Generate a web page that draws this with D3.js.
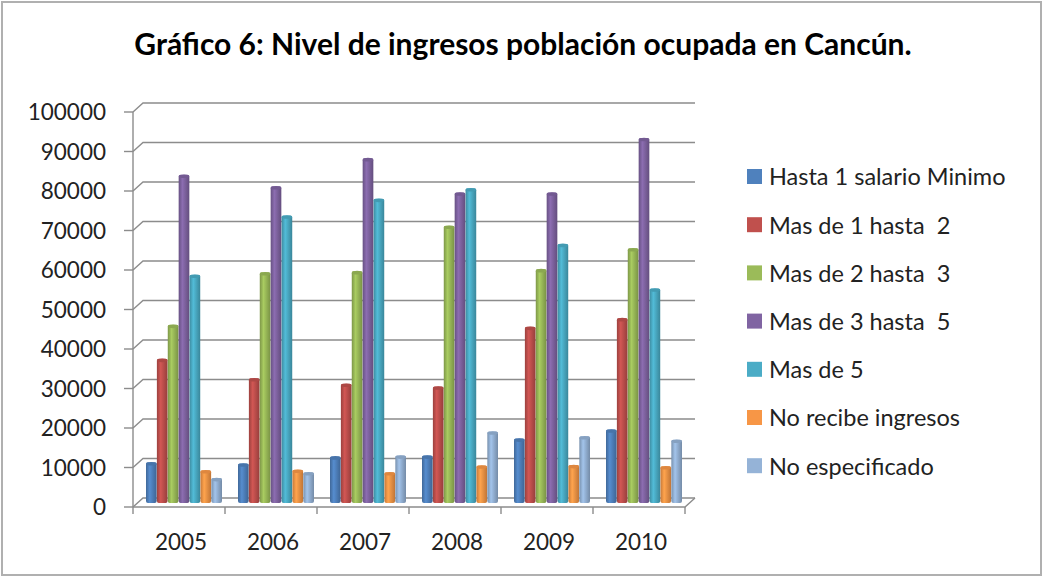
<!DOCTYPE html>
<html>
<head>
<meta charset="utf-8">
<script src="https://cdn.jsdelivr.net/npm/d3@7"></script>
<style>
  body { margin: 0; background: #fff; }
  svg { display: block; font-family: Lato, "Open Sans", sans-serif; }
</style>
</head>
<body>
<svg width="1044" height="578"></svg>
<script>
// data
var years = ["2005", "2006", "2007", "2008", "2009", "2010"];
var series = ["Hasta 1 salario Minimo", "Mas de 1 hasta  2", "Mas de 2 hasta  3",
              "Mas de 3 hasta  5", "Mas de 5", "No recibe ingresos", "No especificado"];
var colors = ["#4F81BD", "#C0504D", "#9BBB59", "#8064A2", "#4BACC6", "#F79646", "#95B3D7"];

var hasta1   = [10300, 10000, 11800, 12000, 16300, 18600];
var de1a2    = [36500, 31600, 30200, 29500, 44600, 46800];
var de2a3    = [45100, 58400, 58700, 70200, 59200, 64500];
var de3a5    = [83100, 80200, 87300, 78600, 78600, 92400];
var mas5     = [57800, 72800, 77000, 79700, 65600, 54300];
var noRecibe = [8300, 8400, 7800, 9500, 9600, 9300];
var noEspec  = [6300, 7800, 12000, 18100, 16900, 16000];
var values = [hasta1, de1a2, de2a3, de3a5, mas5, noRecibe, noEspec];

var yTicks = [0, 10000, 20000, 30000, 40000, 50000, 60000, 70000, 80000, 90000, 100000];

var svg = d3.select("svg");

// outer border
svg.append("rect")
    .attr("x", 2).attr("y", 2)
    .attr("width", 1039).attr("height", 573)
    .attr("fill", "none")
    .attr("stroke", "#b0b0b0")
    .attr("stroke-width", 2);

// title
svg.append("text")
    .attr("x", 523).attr("y", 55)
    .attr("text-anchor", "middle")
    .attr("font-weight", "bold")
    .attr("font-size", 30)
    .text("Gráfico 6: Nivel de ingresos población ocupada en Cancún.");

// 3d depth offset of the back wall
var dx = 10, dy = -9;

var x0 = d3.scaleBand().domain(years).range([133, 685]);
var x1 = d3.scaleBand().domain(series).range([0, 76]).paddingInner(0.02);
var y = d3.scaleLinear().domain([0, 100000]).range([507, 112]);
// bars sit a little behind the front plane
var yBar = d3.scaleLinear().domain([0, 100000]).range([503, 108]);

var grid = svg.append("g").attr("stroke", "#8c8c8c").attr("stroke-width", 1.4).attr("fill", "none");

// gridlines on side wall + back wall
yTicks.forEach(function (t) {
    grid.append("path")
        .attr("d", "M" + 133 + "," + y(t) + "L" + (133 + dx) + "," + (y(t) + dy) +
                   "L" + (685 + dx) + "," + (y(t) + dy));
});
// tick marks on value axis
yTicks.forEach(function (t) {
    grid.append("line")
        .attr("x1", 124).attr("x2", 133)
        .attr("y1", y(t)).attr("y2", y(t));
});
// value axis line
grid.append("line").attr("x1", 133).attr("x2", 133).attr("y1", y(100000)).attr("y2", y(0));
// floor front edge + right edge
grid.append("path")
    .attr("d", "M133," + y(0) + "L685," + y(0) + "L" + (685 + dx) + "," + (y(0) + dy));
// category ticks
years.concat(["end"]).forEach(function (d, i) {
    var xx = i < years.length ? x0(d) : x0.range()[1];
    grid.append("line")
        .attr("x1", xx).attr("x2", xx)
        .attr("y1", y(0)).attr("y2", y(0) + 7);
});

// value labels
svg.append("g").selectAll("text")
    .data(yTicks).enter().append("text")
    .attr("x", 106)
    .attr("y", function (d) { return y(d); })
    .attr("dy", "0.36em")
    .attr("text-anchor", "end")
    .attr("font-size", 22.5)
    .attr("fill", "#222")
    .text(function (d) { return d; });

// category labels
svg.append("g").selectAll("text")
    .data(years).enter().append("text")
    .attr("x", function (d) { return x0(d) + x0.bandwidth() / 2 + 2; })
    .attr("y", 550)
    .attr("text-anchor", "middle")
    .attr("font-size", 22.5)
    .attr("fill", "#222")
    .text(function (d) { return d; });

// gradients for the rounded bars
var defs = svg.append("defs");
colors.forEach(function (c, i) {
    var g = defs.append("linearGradient").attr("id", "grad" + i)
        .attr("x1", 0).attr("x2", 1).attr("y1", 0).attr("y2", 0);
    g.append("stop").attr("offset", "0%").attr("stop-color", d3.color(c).darker(0.6));
    g.append("stop").attr("offset", "35%").attr("stop-color", d3.color(c).brighter(0.25));
    g.append("stop").attr("offset", "100%").attr("stop-color", d3.color(c).darker(0.7));
});

var barData = [];
years.forEach(function (yr, j) {
    series.forEach(function (s, i) {
        barData.push({ year: yr, s: s, i: i, v: values[i][j] });
    });
});

var bars = svg.append("g").selectAll("g")
    .data(barData).enter().append("g")
    .attr("transform", function (d) { return "translate(" + (x0(d.year) + 13 + x1(d.s)) + ",0)"; });

var bw = x1.bandwidth();
bars.append("rect")
    .attr("x", 0)
    .attr("width", bw)
    .attr("y", function (d) { return yBar(d.v); })
    .attr("height", function (d) { return yBar(0) - yBar(d.v); })
    .attr("rx", 2)
    .attr("fill", function (d) { return "url(#grad" + d.i + ")"; });
bars.append("ellipse")
    .attr("cx", bw / 2)
    .attr("cy", function (d) { return yBar(d.v) + 1.5; })
    .attr("rx", bw / 2)
    .attr("ry", 1.8)
    .attr("fill", function (d) { return d3.color(colors[d.i]).darker(0.3); });

// legend
var legend = svg.append("g").selectAll("g")
    .data(series).enter().append("g")
    .attr("transform", function (d, i) { return "translate(747," + (177 + i * 48.2) + ")"; });
legend.append("rect")
    .attr("x", 0).attr("y", -8)
    .attr("width", 15).attr("height", 15)
    .attr("fill", function (d, i) { return colors[i]; });
legend.append("text")
    .attr("x", 22)
    .attr("dy", "0.36em")
    .attr("font-size", 23.5)
    .attr("fill", "#222")
    .attr("xml:space", "preserve")
    .style("white-space", "pre")
    .text(function (d) { return d; });
</script>
</body>
</html>
